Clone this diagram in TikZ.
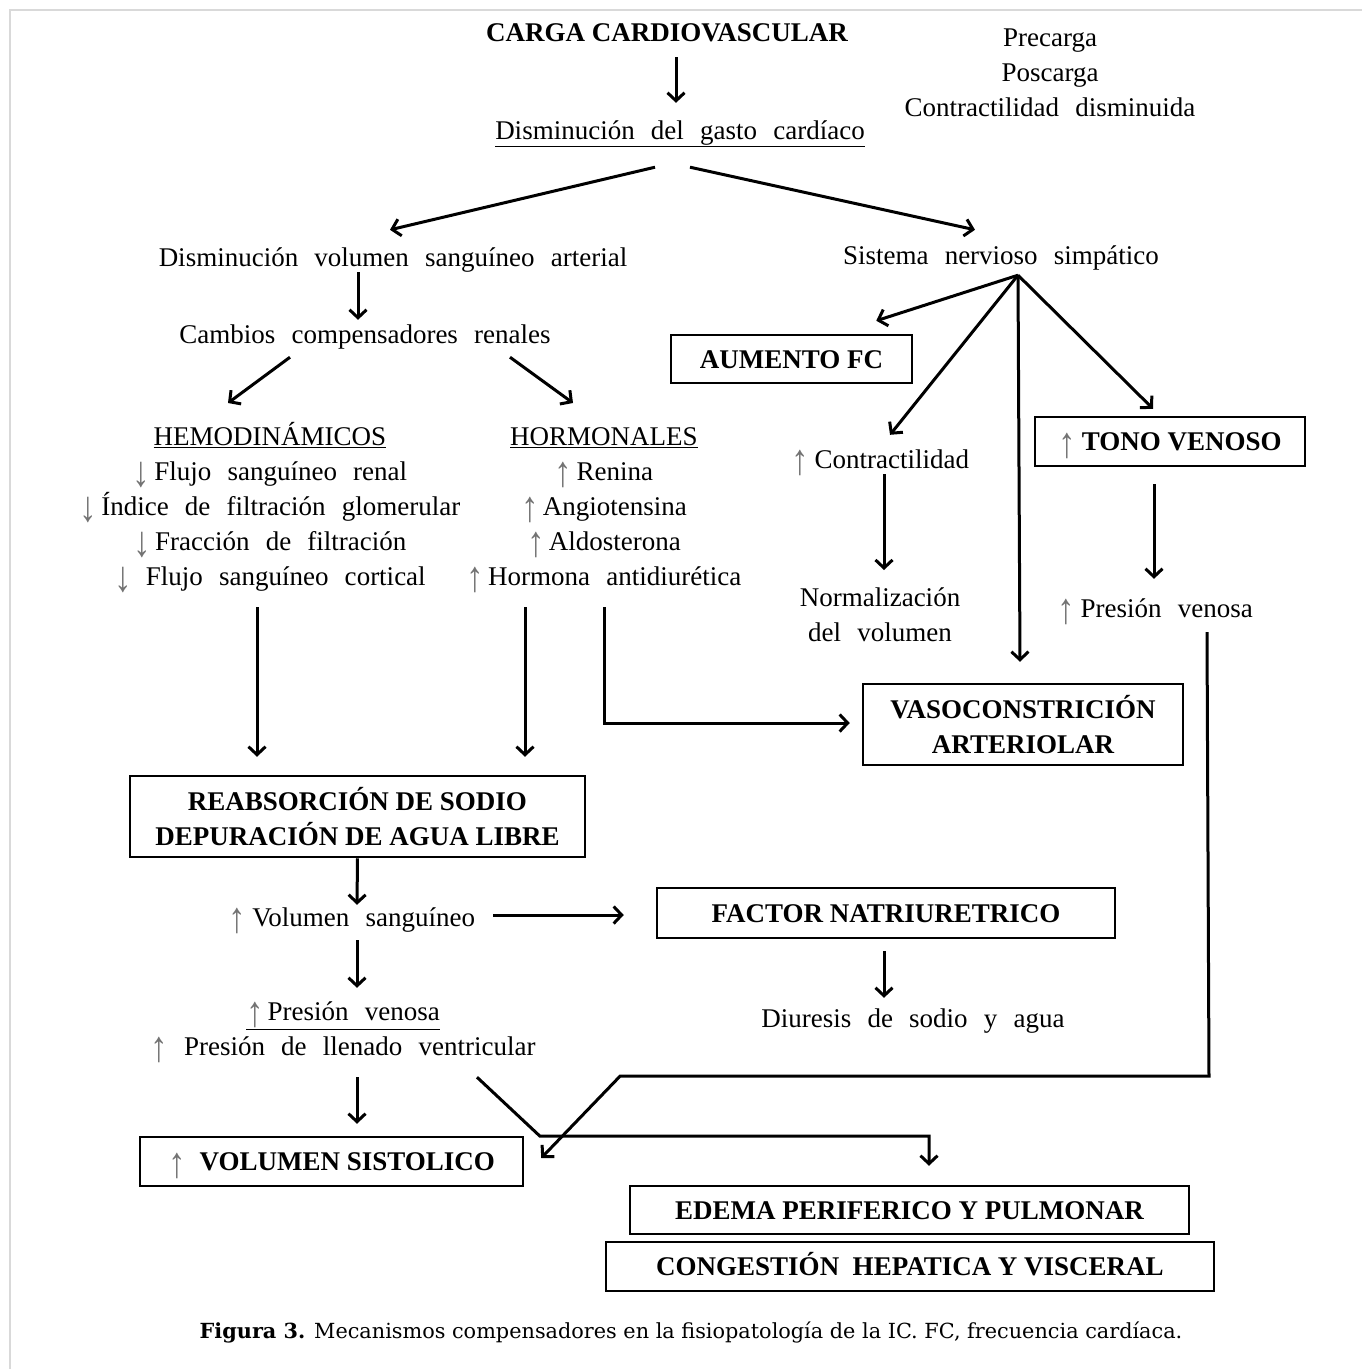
\documentclass[tikz,border=0pt]{standalone}
\usepackage{fontspec}
\setmainfont{Liberation Serif}
\newfontfamily\ancho[WordSpace=2.4]{Liberation Serif}
\newfontfamily\leyenda{DejaVu Serif}
\usetikzlibrary{arrows.meta,calc}

\newcommand{\sube}{{\color{black!55}\raisebox{-6.5pt}{\scalebox{1.3}[1.6]{↑}}}}
\newcommand{\baja}{{\color{black!55}\raisebox{-6.5pt}{\scalebox{1.3}[1.6]{↓}}}}
\newcommand{\arriba}{\rule{0pt}{26pt}}
\newcommand{\abajo}{\rule[-8pt]{0pt}{8pt}}

\tikzset{
  texto/.style={inner sep=0pt, text height=18pt, text depth=0pt,
    font=\ancho\fontsize{27}{35}\selectfont},
  bloque/.style={inner sep=0pt, align=center, anchor=north,
    font=\ancho\fontsize{27}{35}\selectfont},
  titulo/.style={inner sep=0pt, text height=18pt, text depth=0pt,
    font=\fontsize{27}{35}\selectfont\bfseries},
  caja/.style={draw, line width=2.5pt, inner sep=0pt, text height=18pt, text depth=0pt,
    font=\fontsize{27}{35}\selectfont\bfseries},
  caja2/.style={draw, line width=2.5pt, inner sep=0pt, align=center,
    font=\fontsize{27}{35}\selectfont\bfseries},
  flecha/.style={line width=3pt, -{Straight Barb[length=8pt,width=17pt]}},
  marco/.style={draw=black!15, line width=2pt},
}

\begin{document}
\begin{tikzpicture}[x=1pt,y=-1pt]
\useasboundingbox (0,0) rectangle (1362,1369);
\draw[marco] (10,1369) -- (10,10) -- (1362,10);

\node[titulo] (carga) at (667,32) {CARGA CARDIOVASCULAR};
\node[bloque] (factores) at (1050,20) {\arriba Precarga\\Poscarga\\Contractilidad disminuida};
\node[texto] (gasto) at (680,130) {\underline{Disminución del gasto cardíaco}};
\node[texto] (disvol) at (393,257) {Disminución volumen sanguíneo arterial};
\node[texto] (sns) at (1001,255) {Sistema nervioso simpático};
\node[texto] (cambios) at (365,334) {Cambios compensadores renales};

\node[bloque] (hemo) at (270,419) {\arriba\underline{HEMODINÁMICOS}\\
  \baja\hspace{4pt}Flujo sanguíneo renal\\
  \baja\hspace{4pt}Índice de filtración glomerular\\
  \baja\hspace{4pt}Fracción de filtración\\
  \baja\hspace{14pt}Flujo sanguíneo cortical\abajo};
\node[bloque] (horm) at (604,419) {\arriba\underline{HORMONALES}\\
  \sube\hspace{4pt}Renina\\
  \sube\hspace{4pt}Angiotensina\\
  \sube\hspace{4pt}Aldosterona\\
  \sube\hspace{4pt}Hormona antidiurética\abajo};

\node[caja, minimum width=241pt, minimum height=48pt] (aumento) at (791.5,359) {AUMENTO FC};
\node[caja, minimum width=270pt, minimum height=49pt] (tono) at (1170,441.5) {\sube\hspace{6pt}TONO VENOSO};
\node[texto] (contract) at (880,459) {\sube\hspace{6pt}Contractilidad};
\node[bloque] (normal) at (880,580) {\arriba Normalización\\del volumen\abajo};
\node[texto] (presvena) at (1155,608) {\sube\hspace{6pt}Presión venosa};
\node[caja2, minimum width=320pt, minimum height=81pt] (vaso) at (1023,724.5) {VASOCONSTRICIÓN\\ARTERIOLAR};

\node[caja2, minimum width=455pt, minimum height=81pt] (reab) at (357.5,816.5) {REABSORCIÓN DE SODIO\\DEPURACIÓN DE AGUA LIBRE};
\node[texto] (volsang) at (352,917) {\sube\hspace{6pt}Volumen sanguíneo};
\node[caja, minimum width=458pt, minimum height=50pt] (factor) at (886,913) {FACTOR NATRIURETRICO};
\node[texto] (diuresis) at (913,1018) {Diuresis de sodio y agua};
\node[texto] (presven) at (343,1011) {\underline{\sube\hspace{4pt}Presión venosa}};
\node[texto] (presfill) at (343,1046) {\sube\hspace{16pt}Presión de llenado ventricular};
\node[caja, minimum width=383pt, minimum height=49pt] (volsis) at (331.5,1161.5) {\sube\hspace{14pt}VOLUMEN SISTOLICO};
\node[caja, minimum width=559pt, minimum height=48pt] (edema) at (909.5,1210) {EDEMA PERIFERICO Y PULMONAR};
\node[caja, minimum width=608pt, minimum height=49pt] (congest) at (910,1266.5) {CONGESTIÓN\ \ HEPATICA Y VISCERAL};

\node (leyenda) at (691,1332) {\leyenda\fontsize{20.8}{24}\selectfont\textbf{Figura 3.} Mecanismos compensadores en la fisiopatología de la IC. FC, frecuencia cardíaca.};

\draw[flecha] ($(carga.south)+(9,16)$) -- ($(gasto.north)+(-4,-18)$);
\draw[flecha] ($(gasto.south)+(-25,28)$) -- ($(disvol.north)+(-3,-18)$);
\draw[flecha] ($(gasto.south)+(10,28)$) -- ($(sns.north)+(-26,-16)$);
\draw[flecha] ($(disvol.south)+(-35,6)$) -- ($(cambios.north)+(-7,-5)$);
\draw[flecha] ($(cambios.south)+(-75,14)$) -- ($(hemo.north)+(-42,-16)$);
\draw[flecha] ($(cambios.south)+(145,14)$) -- ($(horm.north)+(-31,-16)$);

\coordinate (abanico) at ($(sns.south)+(17,11)$);
\draw[flecha] (abanico) -- ($(aumento.north east)+(-37,-13)$);
\draw[flecha] (abanico) -- ($(contract.north)+(10,-15)$);
\draw[flecha] (abanico) -- ($(vaso.north)+(-3,-21)$);
\draw[flecha] (abanico) -- ($(tono.north)+(-17,-7)$);
\draw[flecha] ($(contract.south)+(4,6)$) -- ($(normal.north)+(4,-10)$);
\draw[flecha] ($(tono.south)+(-16,17)$) -- ($(presvena.north)+(-1,-20)$);
\draw[flecha] ($(presvena.south)+(52,15)$) -- ++(2,444) -- ++(-589,0) -- ($(volsis.east)+(17,-3.5)$);

\draw[flecha] ($(hemo.south)+(-13,14)$) -- ($(reab.north)+(-100.5,-18)$);
\draw[flecha] ($(horm.south)+(-79,14)$) -- ($(reab.north)+(167.5,-18)$);
\draw[flecha] ($(horm.south)+(0,14)$) |- ($(vaso.west)+(-12,-1.5)$);

\draw[flecha] (reab.south) -- ($(volsang.north)+(5,-3)$);
\draw[flecha] ($(volsang.east)+(18,-2)$) -- ($(factor.west)+(-32,2)$);
\draw[flecha] ($(volsang.south)+(5,14)$) -- ($(presven.north)+(14,-14)$);
\draw[flecha] ($(factor.south)+(-2,12)$) -- ($(diuresis.north)+(-29,-11)$);
\draw[flecha] ($(presfill.south)+(14,22)$) -- ($(volsis.north)+(25.5,-12)$);
\draw[flecha] ($(presfill.south)+(134,22)$) -- ++(63,59) -| ($(edema.north)+(19.5,-19)$);
\end{tikzpicture}
\end{document}
